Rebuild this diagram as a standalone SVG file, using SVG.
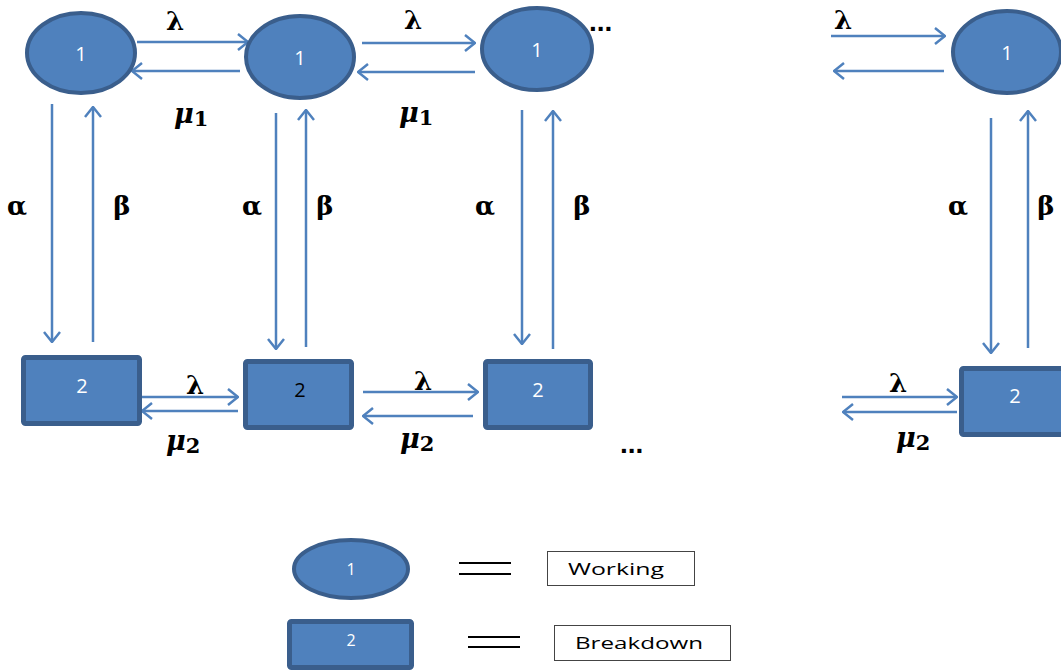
<svg xmlns="http://www.w3.org/2000/svg" width="1061" height="671" viewBox="0 0 1061 671">
<style>
.st{fill:#4f81bd;stroke:#3a5e8c;stroke-width:4}
.rc{fill:#4f81bd;stroke:#3a5e8c;stroke-width:5}
.num{font-family:"Open Sans","Liberation Sans",sans-serif;font-size:20px;fill:#ffffff;text-anchor:middle;dominant-baseline:central}
.ln{stroke:#4f81bd;stroke-width:2.5;fill:none}
.gr{font-family:"DejaVu Serif","Liberation Serif",serif;font-weight:bold;font-size:26px;fill:#000;text-anchor:middle}
.mu{font-family:"DejaVu Serif","Liberation Serif",serif;font-weight:bold;font-style:italic;font-size:27px;fill:#000}
.sub{font-style:normal;font-size:21px}
.dots{font-family:"Liberation Sans",sans-serif;font-weight:bold;font-size:28px;fill:#000}
.lg{font-family:"Open Sans","Liberation Sans",sans-serif;font-size:16px;fill:#000;text-anchor:middle;dominant-baseline:central}
</style>
<defs>
<marker id="ah" viewBox="0 0 12 18" refX="11" refY="9" markerWidth="12" markerHeight="18" markerUnits="userSpaceOnUse" orient="auto">
<path d="M1,1 L11,9 L1,17" fill="none" stroke="#4f81bd" stroke-width="2.5"/>
</marker>
</defs>
<g id="connectors">
<line class="ln" x1="137" y1="42" x2="248" y2="42" marker-end="url(#ah)"/>
<line class="ln" x1="240" y1="71" x2="132" y2="71" marker-end="url(#ah)"/>
<line class="ln" x1="362" y1="43" x2="475" y2="43" marker-end="url(#ah)"/>
<line class="ln" x1="475" y1="72" x2="358" y2="72" marker-end="url(#ah)"/>
<line class="ln" x1="831" y1="36" x2="945" y2="36" marker-end="url(#ah)"/>
<line class="ln" x1="944" y1="71" x2="834" y2="71" marker-end="url(#ah)"/>
<line class="ln" x1="52" y1="104" x2="52" y2="342" marker-end="url(#ah)"/>
<line class="ln" x1="93" y1="342" x2="93" y2="107" marker-end="url(#ah)"/>
<line class="ln" x1="276" y1="113" x2="276" y2="349" marker-end="url(#ah)"/>
<line class="ln" x1="306" y1="347" x2="306" y2="110" marker-end="url(#ah)"/>
<line class="ln" x1="522" y1="110" x2="522" y2="344" marker-end="url(#ah)"/>
<line class="ln" x1="553" y1="349" x2="553" y2="111" marker-end="url(#ah)"/>
<line class="ln" x1="991" y1="118" x2="991" y2="353" marker-end="url(#ah)"/>
<line class="ln" x1="1028" y1="348" x2="1028" y2="111" marker-end="url(#ah)"/>
<line class="ln" x1="142" y1="397" x2="238" y2="397" marker-end="url(#ah)"/>
<line class="ln" x1="238" y1="411" x2="142" y2="411" marker-end="url(#ah)"/>
<line class="ln" x1="363" y1="392" x2="478" y2="392" marker-end="url(#ah)"/>
<line class="ln" x1="473" y1="416" x2="363" y2="416" marker-end="url(#ah)"/>
<line class="ln" x1="842" y1="397" x2="957" y2="397" marker-end="url(#ah)"/>
<line class="ln" x1="957" y1="412" x2="843" y2="412" marker-end="url(#ah)"/>
</g>
<g id="labels">
<text class="gr" x="175" y="30">λ</text>
<text class="gr" x="413" y="29">λ</text>
<text class="gr" x="843" y="29">λ</text>
<text class="mu" x="174" y="123">μ<tspan class="sub" dy="3">1</tspan></text>
<text class="mu" x="399" y="122">μ<tspan class="sub" dy="3">1</tspan></text>
<text class="gr" x="17" y="215">α</text>
<text class="gr" x="122" y="215">β</text>
<text class="gr" x="252" y="215">α</text>
<text class="gr" x="325" y="215">β</text>
<text class="gr" x="485" y="215">α</text>
<text class="gr" x="582" y="215">β</text>
<text class="gr" x="958" y="215">α</text>
<text class="gr" x="1046" y="215">β</text>
<text class="gr" x="195" y="394">λ</text>
<text class="gr" x="423" y="390">λ</text>
<text class="gr" x="898" y="392">λ</text>
<text class="mu" x="166" y="450">μ<tspan class="sub" dy="3">2</tspan></text>
<text class="mu" x="400" y="448">μ<tspan class="sub" dy="3">2</tspan></text>
<text class="mu" x="896" y="447">μ<tspan class="sub" dy="3">2</tspan></text>
<text class="dots" x="589" y="31">...</text>
<text class="dots" x="620" y="453">...</text>
</g>
<g id="n1"><ellipse class="st" cx="81" cy="53" rx="54" ry="40"/><text class="num" x="81" y="53">1</text></g>
<g id="n2"><ellipse class="st" cx="300" cy="57" rx="54" ry="41"/><text class="num" x="300" y="57">1</text></g>
<g id="n3"><ellipse class="st" cx="537" cy="49" rx="55" ry="41"/><text class="num" x="537" y="49">1</text></g>
<g id="n4"><ellipse class="st" cx="1007" cy="52" rx="54" ry="41"/><text class="num" x="1007" y="52">1</text></g>
<g id="r1"><rect class="rc" x="23.5" y="357.5" width="116" height="66" rx="2"/><text class="num" x="82" y="385">2</text></g>
<g id="r2"><rect class="rc" x="245.5" y="361.5" width="106" height="66" rx="2"/><text class="num" x="300" y="389" style="fill:#000">2</text></g>
<g id="r3"><rect class="rc" x="485.5" y="361.5" width="105" height="66" rx="2"/><text class="num" x="538" y="389">2</text></g>
<g id="r4"><rect class="rc" x="961.5" y="368.5" width="110" height="66" rx="2"/><text class="num" x="1015" y="395">2</text></g>
<g id="legend-working">
<ellipse class="st" cx="351" cy="569" rx="57" ry="29"/><text class="num" x="351" y="569" style="font-size:16px">1</text>
<line x1="459" y1="563" x2="511" y2="563" stroke="#000" stroke-width="2"/>
<line x1="459" y1="574" x2="511" y2="574" stroke="#000" stroke-width="2"/>
<rect x="547.5" y="551.5" width="147" height="34" fill="#fff" stroke="#444" stroke-width="1"/>
<text class="lg" x="616" y="569" textLength="96" lengthAdjust="spacingAndGlyphs">Working</text>
</g>
<g id="legend-breakdown">
<rect class="rc" x="289.5" y="621.5" width="122" height="46" rx="2"/><text class="num" x="351" y="640" style="font-size:16px">2</text>
<line x1="468" y1="637" x2="520" y2="637" stroke="#000" stroke-width="2"/>
<line x1="468" y1="647" x2="520" y2="647" stroke="#000" stroke-width="2"/>
<rect x="554.5" y="625.5" width="176" height="35" fill="#fff" stroke="#444" stroke-width="1"/>
<text class="lg" x="639" y="643" textLength="128" lengthAdjust="spacingAndGlyphs">Breakdown</text>
</g>
</svg>
